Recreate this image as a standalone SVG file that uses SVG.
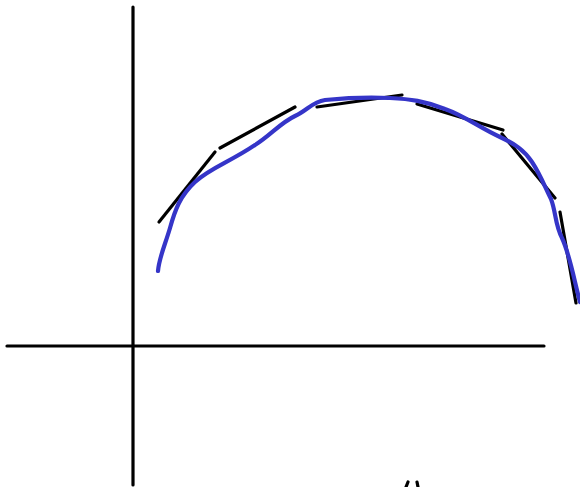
<svg xmlns="http://www.w3.org/2000/svg" width="580" height="487" viewBox="0 0 580 487">
<style>
.k{stroke:#000;stroke-width:3.2;stroke-linecap:round;fill:none}
.b{stroke:#3535c8;stroke-width:4.2;stroke-linecap:round;stroke-linejoin:round;fill:none}
</style>
<rect width="580" height="487" fill="#fff"/>
<g id="axes">
<path class="k" d="M133 7 L133 485"/>
<path class="k" d="M7 346 L544 346"/>
</g>
<g id="tangents">
<path class="k" d="M159 222 L215 152"/>
<path class="k" d="M220 148 L295 107"/>
<path class="k" d="M317 107 L402 95"/>
<path class="k" d="M417 104 L503 130"/>
<path class="k" d="M502 134 L555 198"/>
<path class="k" d="M560 212 L576 303"/>
<path class="k" d="M406 487 L408 482"/>
<path class="k" d="M418 487 L417 482"/>
</g>
<g id="curve">
<path class="b" d="M158 271 C159 258 165 245 170 228 C175 210 180 196 195 182 C210 168 230 162 255 145 C270 136 280 123 295 116 C308 110 312 102 325 100 C345 98 370 97 390 98 C410 99 425 101 445 109 C465 116 480 128 500 137 C515 144 524 150 532 162 C540 174 545 187 551 199 C556 212 555 225 562 238 C570 255 574 280 580 302"/>
</g>
</svg>
